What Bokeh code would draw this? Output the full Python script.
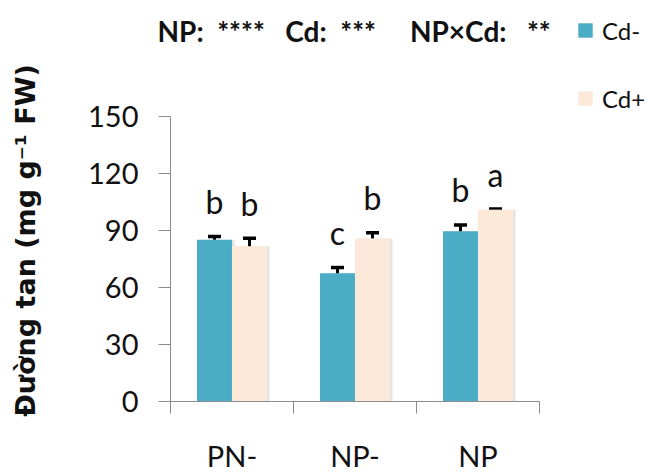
import math
from bokeh.plotting import figure
from bokeh.models import (Range1d, FixedTicker, Label, Legend, LegendItem, Whisker,
                          ColumnDataSource, TeeHead)
from bokeh.transform import dodge
from bokeh.core.properties import value
from bokeh.embed import file_html
from bokeh.resources import INLINE

# ---- data ----
groups = ["PN-", "NP-", "NP"]
series = ["Cd-", "Cd+"]
cd_minus = [85.1, 67.5, 89.6]
cd_plus = [81.7, 85.8, 100.9]
err_minus = [1.7, 3.0, 3.3]
err_plus = [4.2, 3.0, 0.4]
letters_minus = ["b", "c", "b"]
letters_plus = ["b", "b", "a"]
yticks = [0, 30, 60, 90, 120, 150]
NB = "\u00a0"
title_text = "NP:" + NB * 2 + "****" + NB * 3 + "Cd:" + NB * 2 + "***" + NB * 5 + "NP×Cd:" + NB * 3 + "**"
ylabel_text = "Đường tan (mg g⁻¹ FW)"

colors = ["#4BACC6", "#FDE9D9"]
FONT = "Lato"
W, H = 649, 472
# where the data box sits on the canvas (px)
AX_L, AX_R, AX_T, AX_B = 170, 539, 116, 401
D_X0, D_X1, D_Y0, D_Y1 = 0, 3, 0, 150
sx = (AX_R - AX_L) / (D_X1 - D_X0)
sy = (AX_B - AX_T) / (D_Y1 - D_Y0)
x_range = Range1d(D_X0 - AX_L / sx, D_X1 + (W - AX_R) / sx)
y_range = Range1d(D_Y0 - (H - AX_B) / sy, D_Y1 + AX_T / sy)


def dx(px):
    return D_X0 + (px - AX_L) / sx


def dy(py):
    return D_Y0 + (AX_B - py) / sy


bar_w = 0.285
off = 0.1423

p = figure(width=W, height=H, output_backend="svg", toolbar_location=None,
           x_range=x_range, y_range=y_range,
           min_border_left=0, min_border_right=0, min_border_top=0, min_border_bottom=0)
p.outline_line_color = None
p.grid.visible = False
p.background_fill_color = "white"
p.border_fill_color = "white"

centers = [i + 0.5 for i in range(len(groups))]
xm = [c - off for c in centers]
xp = [c + off for c in centers]

src_m = ColumnDataSource(dict(x=xm, top=cd_minus, up=[v + e for v, e in zip(cd_minus, err_minus)],
                              lo=[v - e for v, e in zip(cd_minus, err_minus)], lab=letters_minus))
src_p = ColumnDataSource(dict(x=xp, top=cd_plus, up=[v + e for v, e in zip(cd_plus, err_plus)],
                              lo=[v - e for v, e in zip(cd_plus, err_plus)], lab=letters_plus))

# faint bar shadows
for src in (src_m, src_p):
    p.vbar(x=dodge("x", 2.5 / sx), top="top", width=bar_w, bottom=0, source=src,
           fill_color="#cfcfcf", fill_alpha=0.55, line_color=None)

r1 = p.vbar(x="x", top="top", width=bar_w, bottom=0, source=src_m, fill_color=colors[0], line_color=None)
r2 = p.vbar(x="x", top="top", width=bar_w, bottom=0, source=src_p, fill_color=colors[1], line_color=None)

for src in (src_m, src_p):
    w = Whisker(base="x", upper="up", lower="lo", source=src, line_color="black", line_width=3,
                upper_head=TeeHead(size=13, line_width=3.5, line_color="black"),
                lower_head=TeeHead(size=13, line_width=3.5, line_color="black"))
    p.add_layout(w)
    p.text(x="x", y="up", text="lab", source=src, text_align="center", text_baseline="alphabetic",
           y_offset=-35, text_font=value(FONT), text_font_size="32px", text_color="#111111")

# axes drawn at fixed data positions
ax = p.xaxis[0]
ax.fixed_location = 0
ax.bounds = (D_X0, D_X1)
ax.ticker = FixedTicker(ticks=centers, minor_ticks=[0, 1, 2, 3])
ax.major_label_overrides = {c: g for c, g in zip(centers, groups)}
ax.major_tick_out = 0
ax.major_tick_in = 0
ax.minor_tick_out = 12
ax.minor_tick_in = 0
ax.minor_tick_line_color = "#8c8c8c"
ax.axis_line_color = "#8c8c8c"
ax.major_label_text_font = FONT
ax.major_label_text_font_size = "29px"
ax.major_label_text_color = "#111111"
ax.major_label_standoff = 24

ay = p.yaxis[0]
ay.fixed_location = 0
ay.bounds = (D_Y0, D_Y1)
ay.ticker = FixedTicker(ticks=yticks)
ay.major_tick_out = 12
ay.major_tick_in = 0
ay.minor_tick_out = 0
ay.minor_tick_in = 0
ay.major_tick_line_color = "#8c8c8c"
ay.axis_line_color = "#8c8c8c"
ay.major_label_text_font = FONT
ay.major_label_text_font_size = "29px"
ay.major_label_text_color = "#111111"
ay.major_label_standoff = 20

# y label
p.add_layout(Label(x=dx(25), y=dy(240), text=ylabel_text,
                   angle=math.pi / 2, text_align="center", text_baseline="middle",
                   text_font="DejaVu Sans", text_font_style="bold", text_font_size="27px",
                   text_color="#111111"))

# title
p.add_layout(Label(x=dx(157), y=dy(30), text=title_text,
                   text_align="left", text_baseline="alphabetic",
                   text_font=FONT, text_font_style="bold", text_font_size="28px", text_color="#111111"))

legend = Legend(items=[LegendItem(label=series[0], renderers=[r1]),
                       LegendItem(label=series[1], renderers=[r2])],
                location=(576, H - 15 - 98), orientation="vertical",
                glyph_width=18, glyph_height=18, label_height=30, spacing=38,
                padding=0, margin=0, border_line_color=None, background_fill_alpha=0,
                label_text_font=FONT, label_text_font_size="24px", label_standoff=8,
                label_text_color="#111111")
p.add_layout(legend)

open("out.html", "w").write(file_html(p, INLINE))
